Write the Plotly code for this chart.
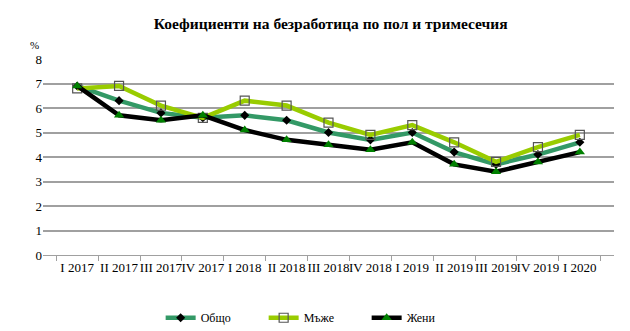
import plotly.graph_objects as go

categories = ["I 2017", "II 2017", "III 2017", "IV 2017", "I 2018", "II 2018", "III 2018",
              "IV 2018", "I 2019", "II 2019", "III 2019", "IV 2019", "I 2020"]
total = [6.9, 6.3, 5.8, 5.6, 5.7, 5.5, 5.0, 4.7, 5.0, 4.2, 3.7, 4.1, 4.6]
men = [6.8, 6.9, 6.1, 5.6, 6.3, 6.1, 5.4, 4.9, 5.3, 4.6, 3.8, 4.4, 4.9]
women = [6.9, 5.7, 5.5, 5.7, 5.1, 4.7, 4.5, 4.3, 4.6, 3.7, 3.4, 3.8, 4.2]

font = "Times New Roman"

fig = go.Figure()
fig.add_trace(go.Scatter(x=categories, y=total, name="Общо", mode="lines+markers",
                         line=dict(color="#339966", width=4.5),
                         marker=dict(symbol="diamond", size=7, color="black")))
fig.add_trace(go.Scatter(x=categories, y=men, name="Мъже", mode="lines+markers",
                         line=dict(color="#99cc00", width=4.5),
                         marker=dict(symbol="square-open", size=9, color="#555555",
                                     line=dict(width=1.2, color="#555555"))))
fig.add_trace(go.Scatter(x=categories, y=women, name="Жени", mode="lines+markers",
                         line=dict(color="black", width=4.5),
                         marker=dict(symbol="triangle-up", size=9, color="#008000")))

fig.update_layout(
    width=630, height=331,
    margin=dict(l=43, r=16, t=59, b=76, autoexpand=False),
    paper_bgcolor="white", plot_bgcolor="white",
    font=dict(family=font, size=13, color="black"),
    title=dict(text="<b>Коефициенти на безработица по пол и тримесечия</b>",
               x=0.525, xanchor="center", y=0.93, yanchor="middle",
               font=dict(family=font, size=15.5, color="black")),
    showlegend=True,
    legend=dict(orientation="h", xref="container", x=0.255, xanchor="left",
                yref="container", y=0.04, yanchor="middle",
                font=dict(family=font, size=12, color="black"),
                itemwidth=30, entrywidth=58),
    xaxis=dict(type="category", showgrid=False, showline=True, linecolor="#a0a0a0",
               linewidth=1.2, ticks="outside", tickcolor="#a0a0a0", ticklen=5,
               tickson="boundaries", tickangle=0,
               tickfont=dict(family=font, size=13, color="black")),
    yaxis=dict(range=[0, 8], dtick=1, showgrid=True, gridcolor="#a0a0a0", gridwidth=1.5,
               zeroline=False, showline=False, ticks="",
               tickfont=dict(family=font, size=13, color="black")),
    annotations=[dict(text="%", x=0, xref="paper", xanchor="right", xshift=-2,
                      y=8, yref="y", yshift=14, yanchor="middle", showarrow=False,
                      font=dict(family=font, size=11, color="black"))],
)

fig.write_html("out.html")
